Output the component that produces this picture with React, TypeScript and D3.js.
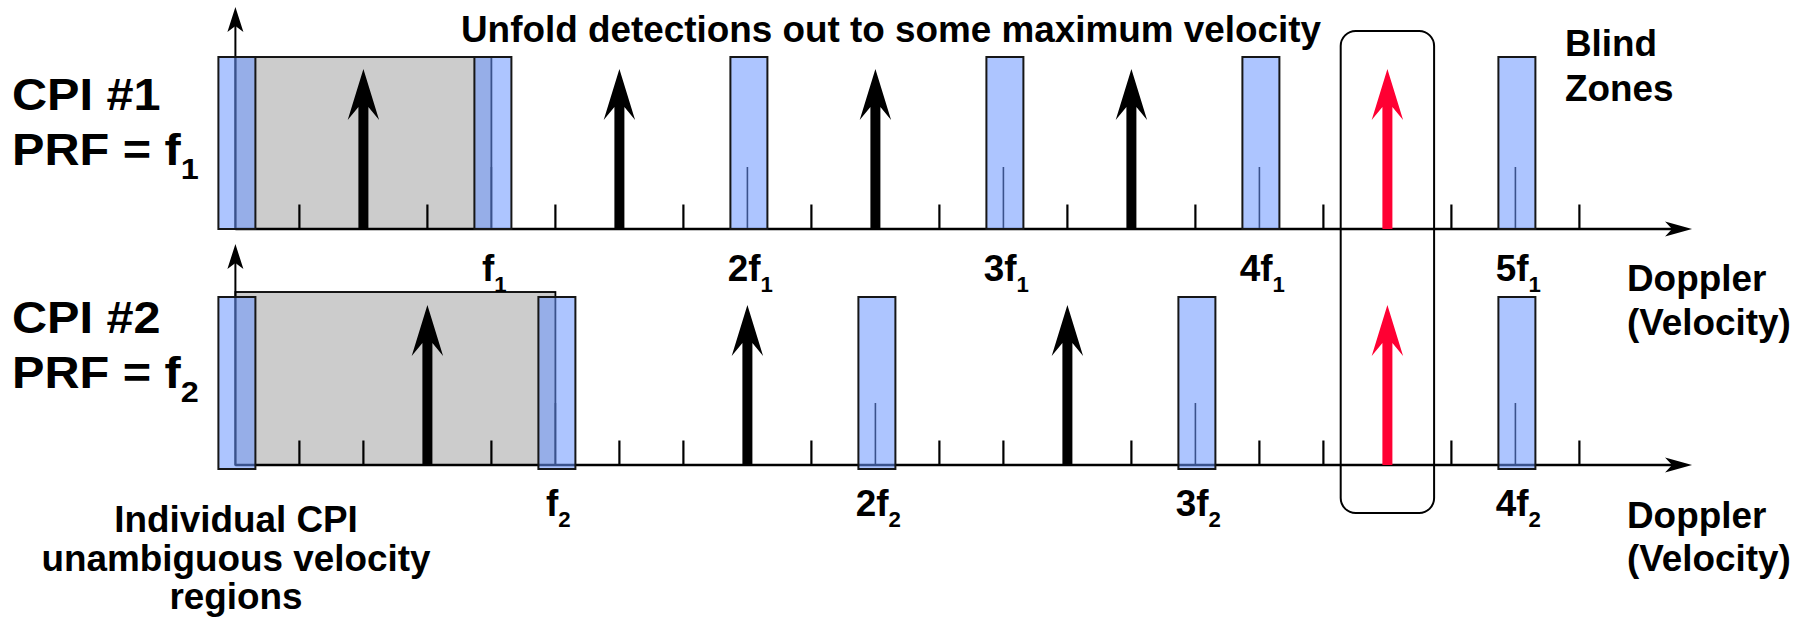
import * as d3 from 'd3';

// tick units: one minor tick = 1 unit
const PRF = [4, 5]; // f1, f2
const PRF_SUB = ['1', '2'];
const ROW_TITLES = ['CPI #1', 'CPI #2'];
const HARMONICS = [
  [1, 2, 3, 4, 5],
  [1, 2, 3, 4],
];
const DETECTIONS = [
  [2, 6, 10, 14],
  [3, 8, 13],
];
const TRUE_VELOCITY = 18;
const TICKS = [1, 2, 3, 4, 5, 6, 7, 8, 9, 10, 11, 12, 13, 14, 15, 16, 17, 18, 19, 20, 21];
const TITLE = 'Unfold detections out to some maximum velocity';
const NOTE_LINES = ['Individual CPI', 'unambiguous velocity', 'regions'];
const BLIND_LINES = ['Blind', 'Zones'];
const AXIS_LINES = ['Doppler', '(Velocity)'];

const W = 1799;
const H = 623;
const FONT = "'Liberation Sans', Arial, Helvetica, sans-serif";

const ROWS = [
  { base: 229, axisTop: 7, grayTop: 57, blueTop: 57, blueBot: 229, tickLabelY: 281, titleY: [110, 165], dopplerY: [291, 335] },
  { base: 465, axisTop: 244, grayTop: 292, blueTop: 297, blueBot: 469, tickLabelY: 516, titleY: [333, 388], dopplerY: [528, 571] },
];

const x = d3.scaleLinear().domain([0, 21]).range([235.4, 235.4 + 21 * 64]);
const AXIS_END = x(22.76);

function T({ x, y, size = 36.5, sx = 1.01, anchor = 'start', children }: any) {
  return (
    <text
      transform={`translate(${x},${y}) scale(${sx},1)`}
      fontFamily={FONT}
      fontWeight="bold"
      fontSize={size}
      textAnchor={anchor}
      fill="#000"
    >
      {children}
    </text>
  );
}

function arrowPath(cx: number, base: number) {
  const p = d3.path();
  p.moveTo(cx, base - 160);
  p.lineTo(cx + 15.7, base - 109);
  p.lineTo(cx + 5, base - 122);
  p.lineTo(cx + 5, base);
  p.lineTo(cx - 5, base);
  p.lineTo(cx - 5, base - 122);
  p.lineTo(cx - 15.7, base - 109);
  p.closePath();
  return p.toString();
}

function hHead(tipX: number, y: number) {
  const p = d3.path();
  p.moveTo(tipX, y);
  p.lineTo(tipX - 27, y - 7.5);
  p.lineTo(tipX - 20, y);
  p.lineTo(tipX - 27, y + 7.5);
  p.closePath();
  return p.toString();
}

function vHead(cx: number, tipY: number) {
  const p = d3.path();
  p.moveTo(cx, tipY);
  p.lineTo(cx + 8, tipY + 25);
  p.lineTo(cx, tipY + 19);
  p.lineTo(cx - 8, tipY + 25);
  p.closePath();
  return p.toString();
}

function Row({ i }: { i: number }) {
  const r = ROWS[i];
  const f = PRF[i];
  const harm = HARMONICS[i];
  const x0 = x(0);
  return (
    <g>
      {/* unambiguous region */}
      <rect x={x0} y={r.grayTop} width={x(f) - x0} height={r.base - r.grayTop} fill="#cccccc" stroke="#000" strokeWidth={1.8} />
      {/* ticks */}
      {TICKS.map((t) =>
        harm.includes(t / f) ? (
          <line key={t} x1={x(t)} x2={x(t)} y1={r.base - 62} y2={r.base} stroke="#000" strokeWidth={1.6} />
        ) : (
          <line key={t} x1={x(t)} x2={x(t)} y1={r.base - 24.5} y2={r.base} stroke="#000" strokeWidth={2.2} />
        )
      )}
      {/* axes */}
      <line x1={x0} x2={AXIS_END - 20} y1={r.base} y2={r.base} stroke="#000" strokeWidth={2.6} />
      <path d={hHead(AXIS_END, r.base)} fill="#000" />
      <line x1={x0} x2={x0} y1={r.base} y2={r.axisTop + 19} stroke="#000" strokeWidth={2} />
      <path d={vHead(x0, r.axisTop)} fill="#000" />
      {/* detections */}
      {DETECTIONS[i].map((d) => (
        <path key={d} d={arrowPath(x(d), r.base)} fill="#000" />
      ))}
      <path d={arrowPath(x(TRUE_VELOCITY), r.base)} fill="#ff0033" />
      {/* blind zones */}
      {[0, ...harm].map((k) => (
        <rect
          key={k}
          x={x(k * f) - 17}
          y={r.blueTop}
          width={37}
          height={r.blueBot - r.blueTop}
          fill="#6a96ff"
          fillOpacity={0.55}
          stroke="#161616"
          strokeWidth={2}
        />
      ))}
      {/* harmonic labels */}
      {harm.map((k) => (
        <T key={k} x={x(k * f) + 3} y={r.tickLabelY} anchor="middle">
          <tspan>{k === 1 ? 'f' : `${k}f`}</tspan>
          <tspan dy={11} fontSize={22}>{PRF_SUB[i]}</tspan>
        </T>
      ))}
      {/* row titles */}
      <T x={12} y={r.titleY[0]} size={45} sx={1.08}>{ROW_TITLES[i]}</T>
      <T x={12} y={r.titleY[1]} size={45} sx={1.08}>
        <tspan>PRF = f</tspan>
        <tspan dy={14} fontSize={30}>{PRF_SUB[i]}</tspan>
      </T>
      {AXIS_LINES.map((s, j) => (
        <T key={s} x={1627} y={r.dopplerY[j]}>{s}</T>
      ))}
    </g>
  );
}

export default function App() {
  const xv = x(TRUE_VELOCITY);
  return (
    <svg width={W} height={H} style={{ position: 'absolute', left: 0, top: 0, background: '#fff' }}>
      <rect width={W} height={H} fill="#fff" />
      <Row i={0} />
      <Row i={1} />
      <rect x={xv - 46.7} y={31} width={93.4} height={482} rx={15} ry={15} fill="none" stroke="#000" strokeWidth={2} />
      <T x={461} y={42}>{TITLE}</T>
      {BLIND_LINES.map((s, j) => (
        <T key={s} x={1565} y={[56, 101][j]}>{s}</T>
      ))}
      {NOTE_LINES.map((s, j) => (
        <T key={s} x={236} y={[532, 571, 609][j]} anchor="middle">{s}</T>
      ))}
    </svg>
  );
}
